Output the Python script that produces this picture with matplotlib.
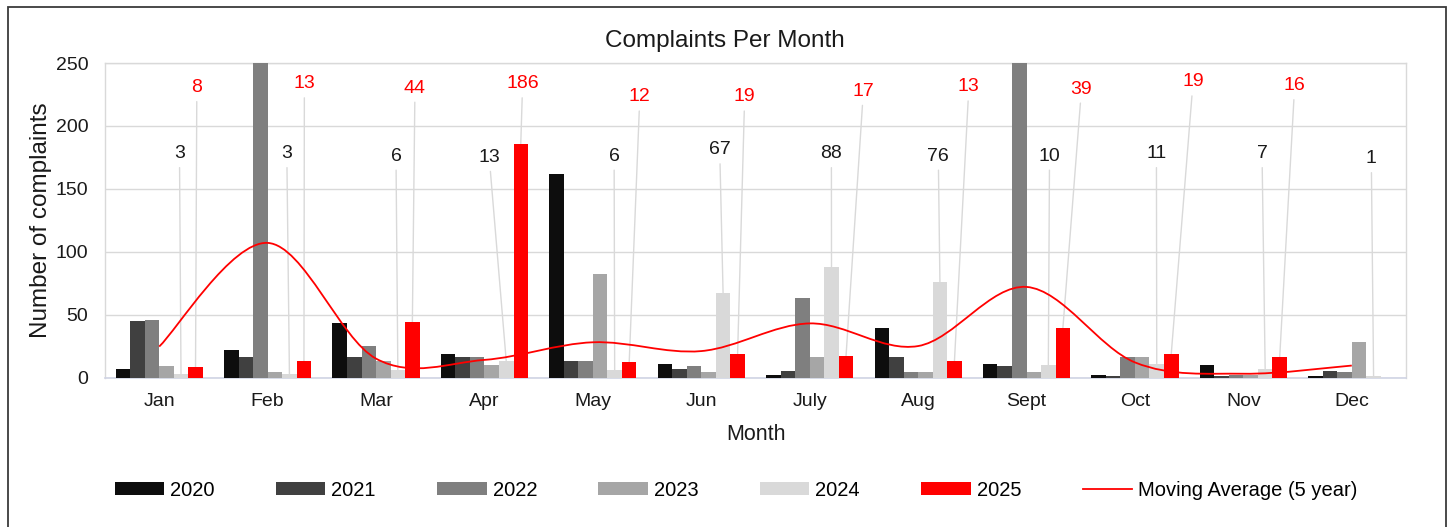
import numpy as np
import matplotlib
matplotlib.use("Agg")
import matplotlib.pyplot as plt
from matplotlib.path import Path
from matplotlib.patches import PathPatch, Rectangle, Patch
from matplotlib.lines import Line2D

# ---------------- data ----------------
months = ["Jan", "Feb", "Mar", "Apr", "May", "Jun", "July", "Aug", "Sept", "Oct", "Nov", "Dec"]
years = ["2020", "2021", "2022", "2023", "2024", "2025"]
c2020 = [7, 22, 43, 19, 162, 11, 2, 39, 11, 2, 10, 1]
c2021 = [45, 16, 16, 16, 13, 7, 5, 16, 9, 1, 1, 5]
c2022 = [46, 480, 25, 16, 13, 9, 63, 4, 325, 16, 2, 4]
c2023 = [9, 4, 13, 10, 82, 4, 16, 4, 4, 16, 2, 28]
c2024 = [3, 3, 6, 13, 6, 67, 88, 76, 10, 11, 7, 1]
c2025 = [8, 13, 44, 186, 12, 19, 17, 13, 39, 19, 16, np.nan]
moving_avg = [24.6, 107, 15, 14, 28, 21, 43, 25, 72, 12, 3, 9.5]

# ---------------- layout (label placement) ----------------
lab24_dx = [0.187, 0.177, 0.184, 0.044, 0.196, 0.17, 0.2, 0.186, 0.212, 0.198, 0.172, 0.18]
lab24_y = [178, 178, 176, 175, 176, 181, 178, 176, 176, 178, 178, 174]
lab25_dx = [0.347, 0.339, 0.359, 0.352, 0.433, 0.40, 0.495, 0.468, 0.507, 0.536, 0.473]
lab25_y = [230.5, 233.5, 230, 233.5, 223, 223, 227.5, 231, 229.3, 235, 232]

colors = ["#0d0d0d", "#404040", "#7f7f7f", "#a6a6a6", "#d9d9d9", "#ff0000"]
series = [c2020, c2021, c2022, c2023, c2024, c2025]

FONT = ["Liberation Sans", "DejaVu Sans"]
plt.rcParams["font.family"] = FONT

W, H = 1450, 527
fig = plt.figure(figsize=(W / 100, H / 100), dpi=100)
ax = fig.add_axes([105 / W, (H - 377.5) / H, 1301 / W, 314.5 / H])

x = np.arange(len(months))
bw = 0.134
for k, (vals, col, yr) in enumerate(zip(series, colors, years)):
    ax.bar(x + (k - 2.5) * bw, np.array(vals, dtype=float), width=bw, color=col,
           zorder=3, label=yr)

# smoothed moving-average line (Bezier, Excel-like smoothing)
P = np.column_stack([x, moving_avg]).astype(float)
n = len(P)
verts = [tuple(P[0])]
codes = [Path.MOVETO]
for i in range(n - 1):
    prev = P[i - 1] if i > 0 else P[i]
    nxt = P[i + 2] if i + 2 < n else P[i + 1]
    c1 = P[i] + (P[i + 1] - prev) / 6
    c2 = P[i + 1] - (nxt - P[i]) / 6
    verts += [tuple(c1), tuple(c2), tuple(P[i + 1])]
    codes += [Path.CURVE4] * 3
ax.add_patch(PathPatch(Path(verts, codes), fill=False, edgecolor="#ff0000", lw=1.3, zorder=4))

# data labels with leader lines
arrow = dict(arrowstyle="-", color="#d9d9d9", lw=1.0, shrinkA=2, shrinkB=0)
for i in range(len(months)):
    bx = x[i] + 1.5 * bw
    ax.annotate(str(c2024[i]), xy=(bx, c2024[i]), xytext=(x[i] + lab24_dx[i], lab24_y[i]),
                ha="center", va="center", fontsize=14, color="#1a1a1a",
                arrowprops=arrow, zorder=2, annotation_clip=False)
for i in range(len(lab25_dx)):
    bx = x[i] + 2.5 * bw
    ax.annotate(str(int(c2025[i])), xy=(bx, c2025[i]), xytext=(x[i] + lab25_dx[i], lab25_y[i]),
                ha="center", va="center", fontsize=14, color="#ff0000",
                arrowprops=arrow, zorder=2, annotation_clip=False)

ax.set_xlim(-0.5, 11.5)
ax.set_ylim(0, 250)
ax.set_yticks([0, 50, 100, 150, 200, 250])
ax.set_xticks(x)
ax.set_xticklabels(months)
ax.tick_params(axis="both", length=0, labelsize=14, colors="#1a1a1a")
ax.tick_params(axis="y", pad=12)
ax.tick_params(axis="x", pad=11)
ax.yaxis.grid(True, color="#d9d9d9", lw=1.0)
ax.set_axisbelow(True)
for s in ["left", "top", "right"]:
    ax.spines[s].set_color("#d9d9d9")
    ax.spines[s].set_linewidth(1.0)
ax.spines["bottom"].set_color("#d0d4e4")
ax.spines["bottom"].set_linewidth(1.2)

ax.set_xlabel("Month", fontsize=15.5, color="#1a1a1a", labelpad=10)
ax.set_ylabel("Number of complaints", fontsize=17.5, color="#1a1a1a", labelpad=3)

fig.text(725 / W, 1 - 41 / H, "Complaints Per Month", ha="center", va="center",
         fontsize=17.5, color="#1a1a1a")

handles = [Patch(facecolor=c, edgecolor="none") for c in colors]
handles.append(Line2D([0], [0], color="#ff0000", lw=1.3))
labels = years + ["Moving Average (5 year)"]
fig.legend(handles, labels, loc="center", bbox_to_anchor=(736 / W, 1 - 490 / H),
           ncol=7, frameon=False, fontsize=14.5, handlelength=2.45, handleheight=0.57,
           handletextpad=0.3, columnspacing=3.05)

fig.add_artist(Rectangle((8 / W, -0.1), (1446 - 8) / W, 1.1 - 7 / H, transform=fig.transFigure,
                         fill=False, edgecolor="#3a3a3a", lw=1.3))

fig.savefig("out.png", dpi=100)
